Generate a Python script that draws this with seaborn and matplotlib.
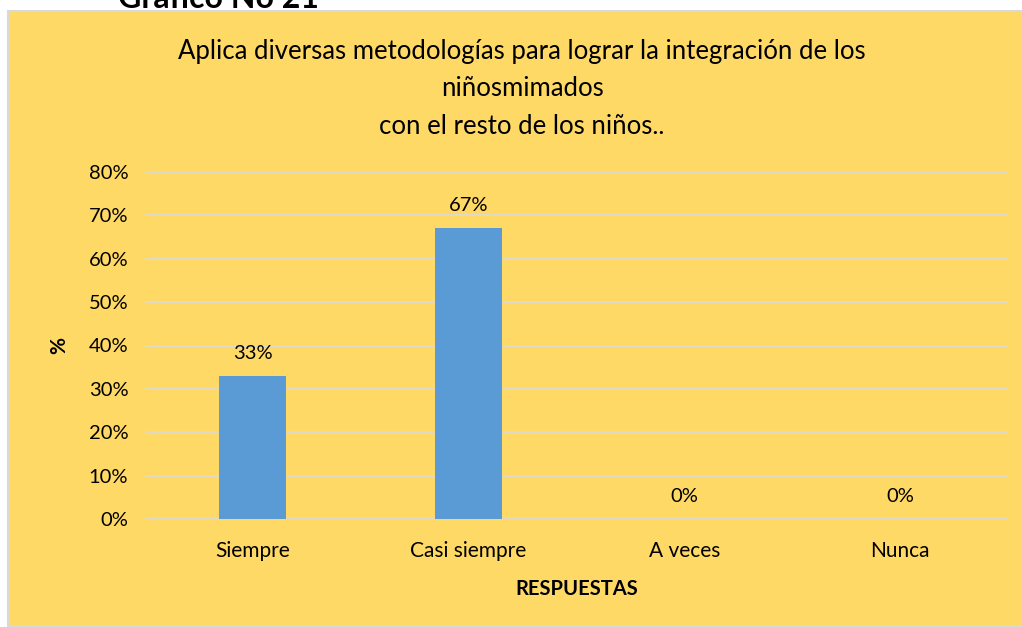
import numpy as np
import pandas as pd
import matplotlib
matplotlib.use('Agg')
import matplotlib.pyplot as plt
from matplotlib.patches import Rectangle
import seaborn as sns

# Data
categorias = ['Siempre', 'Casi siempre', 'A veces', 'Nunca']
porcentajes = [0.33, 0.67, 0.0, 0.0]
yticks = [0, 0.1, 0.2, 0.3, 0.4, 0.5, 0.6, 0.7, 0.8]

df = pd.DataFrame({'Respuesta': categorias, 'Porcentaje': porcentajes})

sns.set_style('white')
plt.rcParams['font.family'] = ['Lato', 'DejaVu Sans']
plt.rcParams['text.color'] = 'black'
plt.rcParams['axes.labelcolor'] = 'black'
plt.rcParams['xtick.color'] = 'black'
plt.rcParams['ytick.color'] = 'black'

W, H = 1022, 627
fig = plt.figure(figsize=(W / 100, H / 100), dpi=100)
fig.patch.set_facecolor('white')

# yellow chart background box
fig.patches.append(Rectangle((8 / W, 0), 1 - 8 / W, 1 - 11 / H, transform=fig.transFigure,
                             facecolor='#FFD966', edgecolor='#D9D9D9', lw=1.5, zorder=-5))

# cut-off heading above the box
fig.text(118 / W, 1 - 8 / H, 'Gráfico No 21', fontsize=23, fontweight='bold',
         ha='left', va='baseline', color='black')

ax = fig.add_axes([145 / W, 1 - 519 / H, 863 / W, (519 - 172) / H])
ax.set_facecolor('none')
ax.set_zorder(2)

sns.barplot(data=df, x='Respuesta', y='Porcentaje', color='#5B9BD5', width=0.31,
            saturation=1, linewidth=0, ax=ax, zorder=3)

ax.set_ylim(0, 0.8)
ax.set_xlim(-0.5, len(categorias) - 0.5)
ax.set_yticks(yticks)
ax.set_yticklabels([f'{int(round(t * 100))}%' for t in yticks], fontsize=14.5)
ax.tick_params(axis='x', labelsize=15, length=0, pad=16)
ax.tick_params(axis='y', length=0, pad=12)
for t in yticks:
    ax.axhline(t, color='#D9D9D9', lw=1.2, zorder=1)
for s in ax.spines.values():
    s.set_visible(False)

# value labels
for i, v in enumerate(porcentajes):
    ax.annotate(f'{int(round(v * 100))}%', (i, v), xytext=(0, 10), textcoords='offset points',
                ha='center', va='bottom', fontsize=14.5)

ax.set_xlabel('RESPUESTAS', fontsize=14.5, fontweight='bold', labelpad=13)
ax.set_ylabel('%', fontsize=15, fontweight='bold', labelpad=14)

fig.text(522 / W, 1 - 89 / H,
         'Aplica diversas metodologías para lograr la integración de los\nniñosmimados\ncon el resto de los niños..',
         ha='center', va='center', fontsize=18.5, linespacing=1.6)

fig.savefig('out.png', dpi=100)
